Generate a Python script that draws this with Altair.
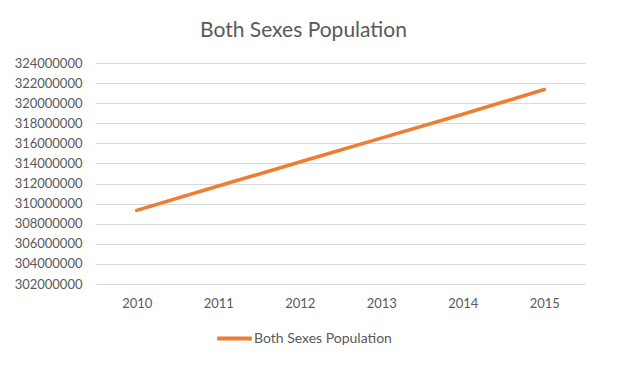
import altair as alt
import pandas as pd

years = ["2010", "2011", "2012", "2013", "2014", "2015"]
population = [309330000, 311750000, 314140000, 316520000, 318900000, 321360000]
series_name = "Both Sexes Population"
y_ticks = [302000000 + 2000000 * i for i in range(12)]

df = pd.DataFrame({"year": years, "population": population, "series": series_name})

FONT = "Lato"
TXT = "#595959"
GRID = "#d9d9d9"

chart = (
    alt.Chart(df)
    .mark_line(strokeWidth=3.6, strokeCap="round", strokeJoin="round")
    .encode(
        x=alt.X(
            "year:O",
            title=None,
            sort=years,
            scale=alt.Scale(type="point", padding=0.5),
            axis=alt.Axis(
                labelAngle=0,
                ticks=False,
                domain=True,
                domainColor=GRID,
                domainWidth=1,
                grid=False,
                labelPadding=13,
            ),
        ),
        y=alt.Y(
            "population:Q",
            title=None,
            scale=alt.Scale(domain=[302000000, 324000000], nice=False, zero=False),
            axis=alt.Axis(
                values=y_ticks,
                format="d",
                ticks=False,
                domain=False,
                grid=True,
                gridColor=GRID,
                gridWidth=1,
                labelPadding=14,
            ),
        ),
        color=alt.Color(
            "series:N",
            scale=alt.Scale(range=["#ED7D31"]),
            legend=alt.Legend(
                title=None,
                orient="none",
                legendX=119,
                legendY=256,
                symbolType="stroke",
                symbolSize=1200,
                symbolStrokeWidth=4,
                labelOffset=0,
                padding=0,
            ),
        ),
    )
    .properties(
        width=489,
        height=221,
        padding={"left": 88, "top": 55, "right": 40, "bottom": 80},
        autosize=alt.AutoSizeParams(type="none"),
        title=alt.TitleParams(
            text="Both Sexes Population",
            anchor="middle",
            dx=-37,
            offset=16,
            fontSize=21,
            font=FONT,
            fontWeight="normal",
            color=TXT,
        ),
    )
    .configure_view(stroke=None)
    .configure_axis(labelFont=FONT, labelFontSize=13, labelColor=TXT)
    .configure_legend(labelFont=FONT, labelFontSize=14, labelColor=TXT)
)

chart.save("out.html", embed_options={"renderer": "svg", "actions": False})
